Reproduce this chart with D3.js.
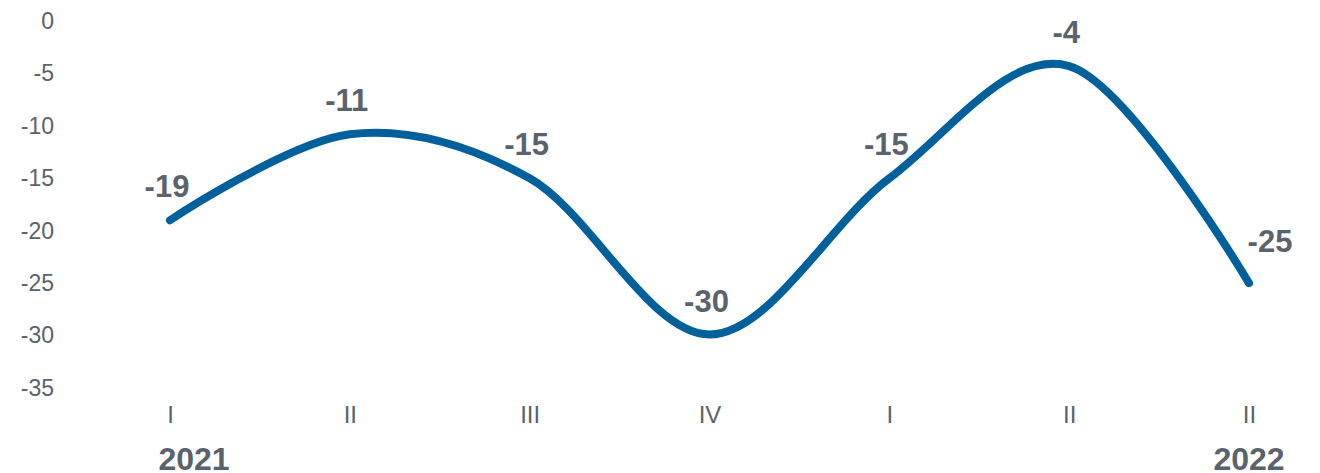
<!DOCTYPE html>
<html>
<head>
<meta charset="utf-8">
<script src="https://cdn.jsdelivr.net/npm/d3@7"></script>
<style>
  body { margin: 0; background: #fff; }
  svg { display: block; font-family: "Liberation Sans", Arial, sans-serif; }
</style>
</head>
<body>
<div class="chart"></div>
<script>
// data
var quarters = ["I", "II", "III", "IV", "I", "II", "II"];
var values = [-19, -10.8, -15, -29.9, -15, -4.3, -25];
var years = [{ idx: 0, label: "2021" }, { idx: 6, label: "2022" }];
var yTicks = [0, -5, -10, -15, -20, -25, -30, -35];

function drawChart() {
    var w = 1320;
    var h = 473;
    var textColor = "#5a626c";
    var lineColor = "#00609c";

    var svg = d3.select(".chart")
                .append("svg")
                .attr("width", w)
                .attr("height", h);

    var xScale = d3.scalePoint()
                   .domain(d3.range(values.length))
                   .range([170, 1249]);

    var yScale = d3.scaleLinear()
                   .domain([0, -35])
                   .range([21, 388]);

    // y axis, labels only
    var yAxis = d3.axisLeft(yScale).tickValues(yTicks).tickSize(0).tickPadding(0)
                  .tickFormat(d => String(d));
    svg.append("g")
       .attr("transform", "translate(54,0)")
       .call(yAxis)
       .call(g => {
           g.select(".domain").remove();
           g.selectAll("text")
            .attr("fill", textColor)
            .style("font-size", "23px")
            .style("font-family", "Liberation Sans, Arial, sans-serif");
       });

    // x axis, quarter labels
    var xAxis = d3.axisBottom(xScale).tickSize(0).tickPadding(0).tickFormat(i => quarters[i]);
    svg.append("g")
       .attr("transform", "translate(0,406)")
       .call(xAxis)
       .call(g => {
           g.select(".domain").remove();
           g.selectAll("text")
            .attr("fill", textColor)
            .style("font-size", "24px")
            .style("font-family", "Liberation Sans, Arial, sans-serif");
       });

    // years under the axis
    svg.selectAll(".year")
       .data(years)
       .enter()
       .append("text")
       .attr("class", "year")
       .attr("x", (d, i) => xScale(d.idx) + (i == 0 ? 24 : 0))
       .attr("y", 470)
       .attr("text-anchor", "middle")
       .attr("fill", textColor)
       .style("font-size", "32px")
       .style("font-weight", "bold")
       .text(d => d.label);

    var line = d3.line()
                 .x((d, i) => xScale(i))
                 .y(d => yScale(d))
                 .curve(d3.curveCardinal.tension(0));

    svg.append("path")
       .datum(values)
       .attr("fill", "none")
       .attr("stroke", lineColor)
       .attr("stroke-width", 8)
       .attr("stroke-linecap", "round")
       .attr("stroke-linejoin", "round")
       .attr("d", line);

    // value labels
    var last = values.length - 1;
    svg.selectAll(".value")
       .data(values)
       .enter()
       .append("text")
       .attr("class", "value")
       .attr("x", (d, i) => xScale(i) + (i == last ? 21 : -3))
       .attr("y", (d, i) => yScale(d) - (i == last ? 31 : 23))
       .attr("text-anchor", "middle")
       .attr("fill", textColor)
       .style("font-size", "31px")
       .style("font-weight", "bold")
       .text(d => String(Math.round(d)));
}

drawChart();
</script>
</body>
</html>
